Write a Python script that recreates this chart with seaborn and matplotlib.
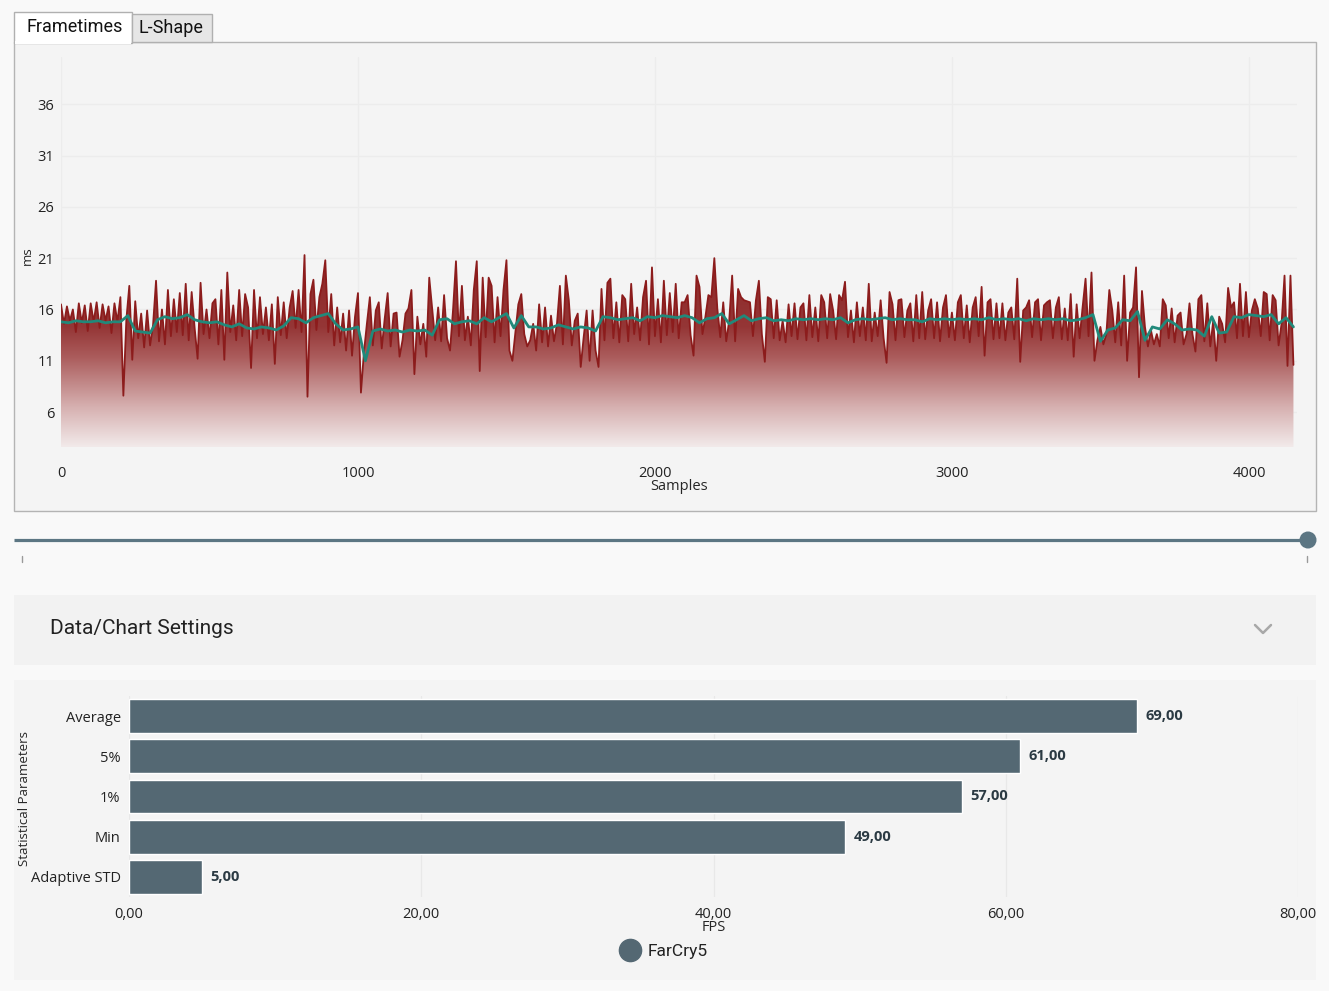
import numpy as np
import matplotlib
matplotlib.use("Agg")
import matplotlib.pyplot as plt
import seaborn as sns
from matplotlib.patches import Rectangle, Circle
from matplotlib.lines import Line2D
from matplotlib.colors import LinearSegmentedColormap

# ---- frametime data (ms), one value every 10 samples ----
frame_step = 10
frame_ms = [
    # 0 - 990
    16.5, 14.6, 16.3, 14.9, 16.0, 13.8, 16.6, 14.7, 16.4, 13.9,
    16.6, 14.8, 16.7, 14.2, 16.5, 14.9, 16.3, 13.7, 16.6, 14.8,
    17.2, 7.6, 15.0, 18.3, 11.1, 16.8, 13.2, 15.6, 12.3, 15.9,
    12.5, 14.5, 18.8, 12.9, 16.0, 12.6, 17.9, 13.4, 17.0, 13.8,
    17.6, 13.5, 18.5, 13.0, 17.7, 14.2, 11.2, 18.6, 13.6, 16.0,
    13.2, 16.6, 17.0, 12.6, 17.9, 11.1, 19.6, 13.8, 16.4, 13.0,
    17.9, 13.4, 17.5, 16.2, 10.3, 17.9, 13.2, 17.2, 13.6, 16.2,
    13.0, 16.5, 10.7, 17.2, 13.5, 16.7, 13.2, 16.2, 17.8, 14.2,
    17.9, 13.8, 21.3, 7.5, 17.5, 18.9, 14.0, 17.2, 18.5, 20.8,
    13.8, 17.5, 12.5, 16.2, 12.8, 15.6, 12.0, 15.9, 11.5, 15.3,
    # 1000 - 1990
    17.6, 7.9, 11.8, 14.6, 17.2, 12.5, 15.9, 16.7, 12.2, 15.1,
    17.6, 12.4, 15.6, 15.7, 11.4, 13.0, 15.6, 16.1, 17.9, 9.7,
    15.3, 12.6, 14.6, 11.4, 19.1, 16.1, 13.0, 16.2, 12.9, 17.4,
    13.2, 12.0, 15.9, 20.7, 13.4, 18.3, 13.0, 15.3, 12.5, 17.9,
    20.7, 10.0, 19.1, 13.3, 19.1, 18.3, 12.8, 17.2, 13.4, 17.9,
    20.8, 12.0, 11.0, 13.8, 16.5, 17.5, 13.6, 12.4, 13.0, 14.6,
    12.0, 16.5, 12.8, 16.2, 12.4, 15.4, 12.9, 14.6, 18.3, 12.6,
    19.3, 16.9, 12.5, 14.9, 15.6, 10.4, 13.3, 15.9, 11.0, 15.9,
    12.0, 10.4, 18.0, 13.0, 18.6, 19.0, 13.2, 16.7, 12.8, 17.4,
    17.0, 12.9, 18.5, 13.6, 16.2, 13.0, 17.2, 18.8, 12.6, 20.1,
    # 2000 - 2990
    13.4, 17.0, 12.8, 18.8, 13.5, 17.6, 13.8, 18.5, 13.2, 16.7,
    16.7, 17.4, 13.5, 11.5, 19.3, 18.2, 13.6, 15.3, 17.4, 17.2,
    21.0, 16.1, 13.3, 16.7, 12.9, 14.9, 19.3, 12.9, 18.0, 17.2,
    16.9, 16.8, 16.7, 13.4, 16.9, 18.8, 13.6, 10.9, 17.2, 17.0,
    13.2, 16.9, 13.0, 14.9, 12.8, 16.5, 13.4, 16.6, 13.1, 16.2,
    16.6, 13.0, 17.4, 13.3, 16.2, 12.9, 17.4, 16.7, 13.2, 17.5,
    15.9, 13.1, 17.4, 16.9, 18.7, 13.3, 15.9, 12.8, 16.7, 13.4,
    16.2, 13.0, 18.5, 12.9, 15.7, 13.4, 16.9, 13.2, 10.8, 17.7,
    16.5, 13.0, 16.9, 17.0, 13.3, 15.9, 16.6, 12.9, 17.4, 13.2,
    17.7, 13.1, 15.9, 17.0, 13.2, 16.7, 12.9, 16.2, 17.4, 13.3,
    # 3000 - 3990
    15.7, 13.0, 16.7, 17.4, 13.2, 16.4, 12.8, 16.2, 17.2, 13.4,
    18.2, 11.5, 16.7, 17.0, 13.1, 16.6, 13.2, 16.6, 13.0, 15.7,
    16.2, 13.1, 19.0, 10.9, 15.9, 16.2, 16.9, 13.3, 16.7, 17.0,
    13.0, 16.4, 16.7, 16.9, 13.2, 16.2, 17.2, 13.1, 16.1, 13.0,
    17.5, 11.4, 16.5, 13.2, 16.2, 19.0, 13.4, 19.6, 11.0, 13.0,
    14.3, 12.6, 13.6, 17.9, 15.9, 12.8, 16.7, 12.5, 19.3, 11.0,
    15.7, 16.2, 20.1, 9.4, 17.8, 14.3, 12.4, 14.0, 12.6, 13.6,
    12.4, 17.0, 16.4, 13.2, 16.1, 12.8, 15.4, 15.7, 12.6, 13.6,
    16.6, 13.6, 11.9, 17.0, 17.4, 12.9, 16.6, 12.4, 14.9, 11.0,
    15.3, 14.6, 12.8, 18.1, 16.2, 16.7, 13.2, 18.5, 13.4, 17.7,
    # 4000 - 4150
    13.3, 15.9, 17.0, 16.1, 13.4, 17.7, 17.5, 13.0, 17.4, 16.9,
    12.5, 14.6, 19.3, 10.5, 19.3, 10.6,
]

# moving average (green line), one value every 25 samples
smooth_step = 25
smooth_ms = [
    14.8, 14.7, 14.9, 14.8, 14.8, 14.9, 14.7, 14.8, 14.8,
    15.4, 13.9, 13.8, 13.7, 15.0, 15.3, 15.1, 15.2, 15.5, 15.0,
    14.8, 14.7, 14.8, 14.5, 14.3, 14.6, 14.2, 14.1, 14.3, 14.2,
    14.0, 14.4, 15.2, 15.1, 14.7, 15.2, 15.4, 15.6, 14.6, 14.0, 14.1,
    14.3, 11.0, 13.9, 14.1, 13.9, 14.0, 13.8, 14.0, 13.9, 14.0,
    13.5, 15.0, 15.1, 14.6, 14.8, 14.9, 14.6, 15.2, 14.8, 15.2,
    15.6, 14.2, 15.4, 14.3, 14.3, 14.1, 14.2, 14.5, 14.3, 14.1,
    14.3, 14.2, 13.9, 15.3, 15.2, 15.0, 15.1, 15.2, 14.9, 15.3,
    15.2, 15.4, 15.3, 15.2, 15.4, 15.2, 14.7, 15.1, 15.2, 15.6,
    14.6, 15.0, 15.4, 14.9, 15.1, 15.2, 14.9, 15.0, 14.9, 15.1,
    15.0, 15.1, 15.0, 15.1, 15.0, 15.2, 14.7, 15.0, 15.1, 15.0,
    15.1, 15.2, 15.0, 15.1, 15.0, 15.0, 14.8, 15.1, 15.0, 15.1,
    15.0, 15.1, 15.0, 15.1, 15.0, 15.2, 15.0, 15.1, 15.0, 15.1,
    14.9, 15.1, 15.0, 15.1, 15.0, 15.1, 14.9, 15.0, 15.2, 15.5,
    12.9, 14.0, 14.2, 15.0, 14.9, 15.8, 13.0, 14.3, 14.1, 15.0,
    14.6, 14.0, 14.1, 14.0, 13.4, 15.3, 13.7, 13.8, 15.3, 15.2,
    15.5, 15.4, 15.3, 15.5, 14.6, 15.2, 14.3,
]

ms_ticks = [6, 11, 16, 21, 26, 31, 36]
sample_ticks = [0, 1000, 2000, 3000, 4000]

# ---- statistics bar chart ----
stat_labels = ["Average", "5%", "1%", "Min", "Adaptive STD"]
fps_values = [69.0, 61.0, 57.0, 49.0, 5.0]
fps_ticks = [0, 20, 40, 60, 80]
game_name = "FarCry5"

W, H = 1329, 991
sns.set_style("white")
plt.rcParams["font.family"] = ["Open Sans", "DejaVu Sans"]
plt.rcParams["text.color"] = "#222222"
plt.rcParams["xtick.color"] = "#222222"
plt.rcParams["ytick.color"] = "#222222"

fig = plt.figure(figsize=(W / 100, H / 100), dpi=100, facecolor="#f9f9f9")


def px(x0, y0, x1, y1):
    return [x0 / W, 1 - y1 / H, (x1 - x0) / W, (y1 - y0) / H]


# background / UI chrome
bg = fig.add_axes([0, 0, 1, 1])
bg.set_xlim(0, W)
bg.set_ylim(H, 0)
bg.axis("off")
bg.set_zorder(-5)

bg.add_patch(Rectangle((14, 42), 1302, 469, facecolor="#f4f4f4", edgecolor="#b4b4b4", lw=1))
bg.add_patch(Rectangle((14, 12), 118, 31, facecolor="white", edgecolor="#b0b0b0", lw=1))
bg.add_patch(Rectangle((15, 41), 116, 3, facecolor="white", edgecolor="none"))
bg.add_patch(Rectangle((132, 14), 80, 28, facecolor="#e6e6e6", edgecolor="#b0b0b0", lw=1))
bg.text(26, 27, "Frametimes", fontsize=13, family=["Roboto", "DejaVu Sans"], va="center", color="#111111")
bg.text(139, 28, "L-Shape", fontsize=13, family=["Roboto", "DejaVu Sans"], va="center", color="#111111")

# range slider
bg.add_line(Line2D([14, 1308], [540, 540], color="#5c7683", lw=2.3, solid_capstyle="butt"))
bg.add_patch(Circle((1308, 540), 8.5, facecolor="#5c7683", edgecolor="none"))
bg.add_line(Line2D([22, 22], [556, 562], color="#9a9a9a", lw=1))
bg.add_line(Line2D([1307, 1307], [556, 562], color="#9a9a9a", lw=1))

# settings panel
bg.add_patch(Rectangle((14, 595), 1302, 70, facecolor="#f2f2f2", edgecolor="none"))
bg.text(50, 629, "Data/Chart Settings", fontsize=15, family=["Roboto", "DejaVu Sans"],
        va="center", color="#222222")
bg.add_line(Line2D([1255, 1263, 1271], [625, 633, 625], color="#a8a8a8", lw=1.8))

# bar panel
bg.add_patch(Rectangle((14, 680), 1302, 300, facecolor="#f4f4f4", edgecolor="none"))

# ---- frametimes chart ----
ax = fig.add_axes(px(61, 57, 1297, 447))
ax.set_facecolor("#f4f4f4")
y_lo, y_hi = 2.6, 40.6
samples = np.arange(len(frame_ms)) * frame_step
smooth_x = np.arange(len(smooth_ms)) * smooth_step

poly = ax.fill_between(samples, frame_ms, y_lo, facecolor="none", lw=0)
fade = LinearSegmentedColormap.from_list(
    "fade", [(0.0, "#f2eaea"), (0.2, "#d6b0b0"), (0.45, "#ab5c5c"),
             (0.6, "#953636"), (1.0, "#8a2424")])
grad = np.linspace(1, 0, 256).reshape(-1, 1)
im = ax.imshow(grad, extent=[0, samples.max(), y_lo, 22], aspect="auto",
               cmap=fade, origin="upper", zorder=1)
im.set_clip_path(poly.get_paths()[0], transform=ax.transData)

sns.lineplot(x=samples, y=frame_ms, ax=ax, color="#8c1c1c", lw=1.3, zorder=2)
sns.lineplot(x=smooth_x, y=smooth_ms, ax=ax, color="#21897a", lw=2.0, zorder=3)

ax.set_xlim(0, 4162)
ax.set_ylim(y_lo, y_hi)
ax.set_yticks(ms_ticks)
ax.set_xticks(sample_ticks)
ax.grid(True, color="#ececec", lw=0.9)
ax.tick_params(axis="both", length=0, labelsize=10.5)
ax.tick_params(axis="x", pad=14)
ax.tick_params(axis="y", pad=5)
for s in ax.spines.values():
    s.set_visible(False)
ax.set_xlabel("Samples", fontsize=10.5)
ax.xaxis.set_label_coords(0.5, -0.082)
ax.set_ylabel("ms", fontsize=9.5)
ax.yaxis.set_label_coords(-0.022, 0.49)

# ---- statistics bar chart ----
bx = fig.add_axes(px(129, 696, 1298, 897))
bx.set_facecolor("none")
bar_color = "#546873"
sns.barplot(x=fps_values, y=stat_labels, ax=bx, color=bar_color, orient="h",
            width=0.84, saturation=1, zorder=2)
bx.set_xlim(0, 80)
bx.set_ylim(4.5, -0.5)
bx.set_xticks(fps_ticks)
bx.set_xticklabels([f"{v:.2f}".replace(".", ",") for v in fps_ticks])
bx.grid(True, axis="x", color="#e8e8e8", lw=0.9, zorder=0)
bx.grid(False, axis="y")
bx.tick_params(axis="both", length=0, labelsize=10.5)
bx.tick_params(axis="x", pad=7)
bx.tick_params(axis="y", pad=6)
for s in bx.spines.values():
    s.set_visible(False)
bx.bar_label(bx.containers[0], labels=[f"{v:.2f}".replace(".", ",") for v in fps_values],
             padding=6, fontsize=10.5, fontweight="bold", color="#2b3a43")
bx.set_xlabel("FPS", fontsize=10.5)
bx.xaxis.set_label_coords(0.5, -0.112)
bx.set_ylabel("Statistical Parameters", fontsize=9.5)
bx.yaxis.set_label_coords(-0.084, 0.49)

handle = Line2D([], [], marker="o", linestyle="", markersize=16,
                markerfacecolor=bar_color, markeredgecolor=bar_color)
fig.legend([handle], [game_name], loc="center", bbox_to_anchor=(664 / W, 1 - 951 / H),
           frameon=False, handletextpad=0.4, handlelength=1.2,
           prop={"family": ["Roboto", "DejaVu Sans"], "size": 12.5})

fig.savefig("out.png", dpi=100, facecolor=fig.get_facecolor())
